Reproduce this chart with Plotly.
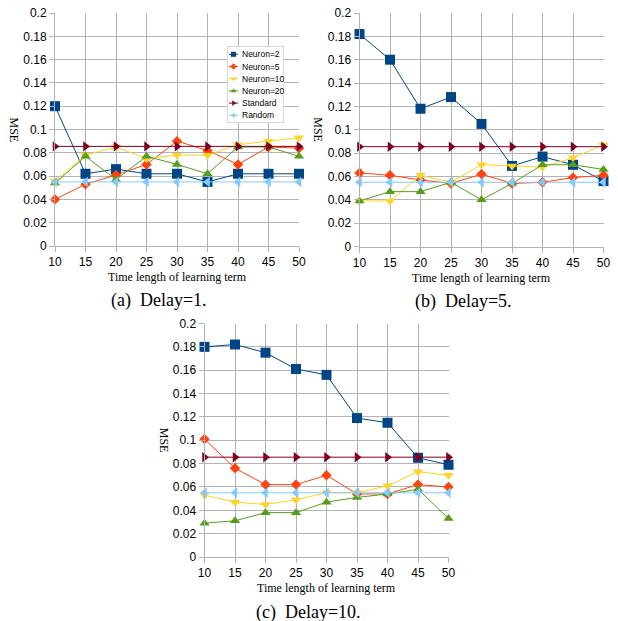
import plotly.graph_objects as go

x_terms = [10, 15, 20, 25, 30, 35, 40, 45, 50]
series_names = ["Neuron=2", "Neuron=5", "Neuron=10", "Neuron=20", "Standard", "Random"]

# Delay = 1
d1_n2 = [0.120, 0.062, 0.066, 0.062, 0.062, 0.055, 0.062, 0.062, 0.062]
d1_n5 = [0.040, 0.053, 0.061, 0.070, 0.090, 0.082, 0.070, 0.085, 0.084]
d1_n10 = [0.056, 0.078, 0.085, 0.075, 0.078, 0.078, 0.087, 0.090, 0.093]
d1_n20 = [0.054, 0.077, 0.057, 0.077, 0.070, 0.062, 0.085, 0.085, 0.077]
d1_std = [0.0855] * 9
d1_rnd = [0.055] * 9

# Delay = 5
d5_n2 = [0.182, 0.160, 0.118, 0.128, 0.105, 0.069, 0.077, 0.070, 0.056]
d5_n5 = [0.063, 0.061, 0.057, 0.054, 0.062, 0.054, 0.055, 0.059, 0.061]
d5_n10 = [0.039, 0.039, 0.061, 0.055, 0.070, 0.069, 0.068, 0.076, 0.087]
d5_n20 = [0.039, 0.047, 0.047, 0.055, 0.040, 0.054, 0.070, 0.070, 0.066]
d5_std = [0.0855] * 9
d5_rnd = [0.055] * 9

# Delay = 10
d10_n2 = [0.180, 0.182, 0.175, 0.161, 0.156, 0.119, 0.115, 0.085, 0.079]
d10_n5 = [0.101, 0.076, 0.062, 0.062, 0.070, 0.054, 0.054, 0.062, 0.060]
d10_n10 = [0.053, 0.047, 0.045, 0.049, 0.055, 0.055, 0.061, 0.073, 0.070]
d10_n20 = [0.029, 0.031, 0.038, 0.038, 0.047, 0.051, 0.054, 0.058, 0.033]
d10_std = [0.0855] * 9
d10_rnd = [0.055] * 9

y_ticks = [0, 0.02, 0.04, 0.06, 0.08, 0.1, 0.12, 0.14, 0.16, 0.18, 0.2]
y_tick_labels = ["0", "0.02", "0.04", "0.06", "0.08", "0.1", "0.12", "0.14", "0.16", "0.18", "0.2"]
captions = ["(a)  Delay=1.", "(b)  Delay=5.", "(c)  Delay=10."]
x_title = "Time length of learning term"
y_title = "MSE"

colors = ["#004586", "#ff420e", "#ffd320", "#579d1c", "#7e0021", "#83caff"]
symbols = ["square", "diamond", "triangle-down", "triangle-up", "triangle-right", "triangle-left"]
sizes = [10, 8, 9, 9, 9, 9]

panels = [
    [d1_n2, d1_n5, d1_n10, d1_n20, d1_std, d1_rnd],
    [d5_n2, d5_n5, d5_n10, d5_n20, d5_std, d5_rnd],
    [d10_n2, d10_n5, d10_n10, d10_n20, d10_std, d10_rnd],
]

W, H = 618, 621
# pixel boxes (left, right, top, bottom)
boxes = [(55, 299, 13, 246), (359.5, 603.5, 13, 246.5), (204.5, 448.5, 323.5, 557)]

fig = go.Figure()
axis_ids = ["", "2", "3"]
for p, (series, box) in enumerate(zip(panels, boxes)):
    xa = "x" + axis_ids[p]
    ya = "y" + axis_ids[p]
    for i, vals in enumerate(series):
        fig.add_trace(go.Scatter(
            x=x_terms, y=vals, mode="lines+markers", name=series_names[i],
            line=dict(color=colors[i], width=1),
            marker=dict(symbol=symbols[i], size=sizes[i], color=colors[i], line=dict(width=0)),
            xaxis=xa, yaxis=ya, showlegend=False, cliponaxis=False,
        ))
    l, r, t, b = box
    xd = [l / W, r / W]
    yd = [1 - b / H, 1 - t / H]
    axcommon = dict(showgrid=True, gridcolor="#b3b3b3", gridwidth=1, showline=True,
                    linecolor="#b3b3b3", linewidth=1, ticks="outside", ticklen=5,
                    tickcolor="#b3b3b3", zeroline=False, automargin=False,
                    tickfont=dict(family="Liberation Sans, Arial", size=12, color="#000000"))
    fig.layout["xaxis" + axis_ids[p]] = dict(
        domain=xd, range=[10, 50], tickvals=x_terms, ticktext=[str(v) for v in x_terms],
        anchor=ya, **axcommon)
    fig.layout["yaxis" + axis_ids[p]] = dict(
        domain=yd, range=[0, 0.2], tickvals=y_ticks, ticktext=y_tick_labels,
        anchor=xa, **axcommon)
    cx = (l + r) / 2
    fig.add_annotation(x=cx / W, y=1 - (b + 31) / H, xref="paper", yref="paper",
                       text=x_title, showarrow=False, xanchor="center", yanchor="middle",
                       font=dict(family="Liberation Serif, Times New Roman", size=12, color="#000"))
    fig.add_annotation(x=(l - 41) / W, y=1 - ((t + b) / 2) / H, xref="paper", yref="paper",
                       text=y_title, showarrow=False, textangle=90, xanchor="center", yanchor="middle",
                       font=dict(family="Liberation Serif, Times New Roman", size=12, color="#000"))
    fig.add_annotation(x=(cx - 18) / W, y=1 - (b + 55) / H, xref="paper", yref="paper",
                       text=captions[p], showarrow=False, xanchor="center", yanchor="middle",
                       font=dict(family="Liberation Serif, Times New Roman", size=18, color="#000"))

# Compact legend box drawn on a hidden overlay subplot (pixel units inside the box)
lg_l, lg_r, lg_t, lg_b = 227, 284, 46, 123
lw, lh = lg_r - lg_l, lg_b - lg_t
fig.layout["xaxis4"] = dict(domain=[lg_l / W, lg_r / W], range=[0, lw], visible=False,
                            fixedrange=True, anchor="y4", automargin=False)
fig.layout["yaxis4"] = dict(domain=[1 - lg_b / H, 1 - lg_t / H], range=[lh, 0], visible=False,
                            fixedrange=True, anchor="x4", automargin=False)
fig.add_trace(go.Scatter(x=[0, lw, lw, 0, 0], y=[0, 0, lh, lh, 0], mode="lines",
                         fill="toself", fillcolor="white", line=dict(color="#b3b3b3", width=1),
                         xaxis="x4", yaxis="y4", showlegend=False, hoverinfo="skip",
                         cliponaxis=False))
for i, name in enumerate(series_names):
    ry = 8.3 + 12.2 * i
    fig.add_trace(go.Scatter(x=[2, 11], y=[ry, ry], mode="lines",
                             line=dict(color=colors[i], width=1),
                             xaxis="x4", yaxis="y4", showlegend=False, hoverinfo="skip",
                             cliponaxis=False))
    fig.add_trace(go.Scatter(x=[6.5], y=[ry], mode="markers",
                             marker=dict(symbol=symbols[i], size=5, color=colors[i]),
                             xaxis="x4", yaxis="y4", showlegend=False, hoverinfo="skip",
                             cliponaxis=False))
    fig.add_annotation(x=13, y=ry, xref="x4", yref="y4", text=name, showarrow=False,
                       xanchor="left", yanchor="middle",
                       font=dict(family="Liberation Sans, Arial", size=8.5, color="#000"))

fig.update_layout(
    width=W, height=H, margin=dict(l=0, r=0, t=0, b=0, autoexpand=False),
    paper_bgcolor="white", plot_bgcolor="white", showlegend=False,
)
fig.write_html(
    "out.html",
    config={"displayModeBar": False},
    post_script="document.body.style.margin='0';document.body.style.overflow='hidden';",
)
